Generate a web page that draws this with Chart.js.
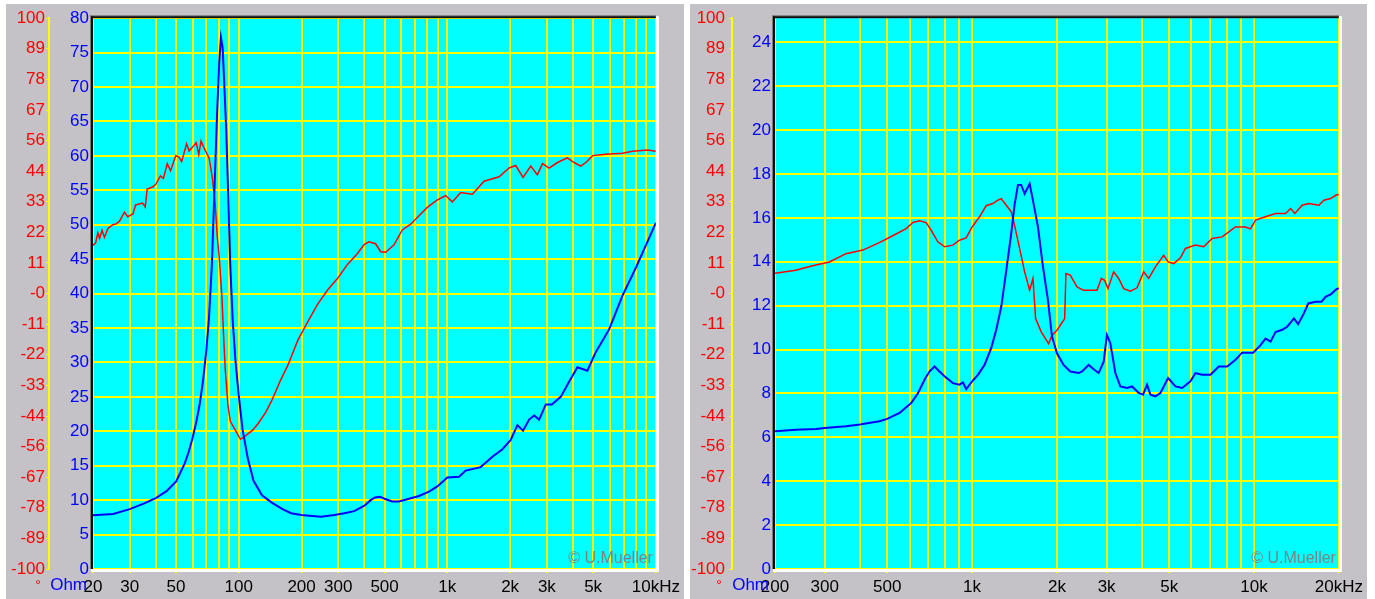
<!DOCTYPE html>
<html>
<head>
<meta charset="utf-8">
<script src="https://cdn.jsdelivr.net/npm/chart.js@4.4.0/dist/chart.umd.min.js"></script>
<style>
html, body { margin: 0; padding: 0; background: #fff; }
body { width: 1375px; height: 599px; position: relative; overflow: hidden; }
.panel { position: absolute; top: 4px; height: 595px; background: #c4c2c6; }
#p1 { left: 6px; width: 678px; }
#p2 { left: 690px; width: 677px; }
canvas { display: block; }
</style>
</head>
<body>
<div class="panel" id="p1"><canvas id="c1" width="678" height="595"></canvas></div>
<div class="panel" id="p2"><canvas id="c2" width="677" height="595"></canvas></div>
<script>
// phase axis labels (shared by both panels)
var degLabels = ['100','89','78','67','56','44','33','22','11','-0','-11','-22','-33','-44','-56','-67','-78','-89','-100'];

// ---- left panel: 20 Hz .. 10 kHz
var leftGridFreqs = [20,30,40,50,60,70,80,90,100,200,300,400,500,600,700,800,900,
                     1000,2000,3000,4000,5000,6000,7000,8000,9000,10000];
var leftLabelFreqs = [20,30,50,100,200,300,500,1000,2000,3000,5000,10000];
var leftLabelTexts = ['20','30','50','100','200','300','500','1k','2k','3k','5k','10kHz'];
var leftOhmTicks = [0,5,10,15,20,25,30,35,40,45,50,55,60,65,70,75,80];

var leftOhmFreq = [20,25,30,35,40,45,50,55,57.5,60,62.5,65,67.5,70,72,74.3,76.6,78.6,80.6,82.1,83.7,85.2,87.1,88.7,91,
                   93.4,96.2,99.8,104.3,110.6,117.7,129.2,144.6,161.9,178.2,199.6,218.7,247.6,287.4,320.6,
                   357.6,400,429,450,475,500,544,586,655,731,817,895,1000,1138,1224,1445,1644,1837,2013,
                   2167,2307,2466,2607,2756,2964,3168,3497,3834,4204,4692,5146,5966,6914,8015,8947,10000];
var leftOhm = [7.8,8.0,8.7,9.5,10.3,11.3,12.7,15.3,17.0,19.0,21.3,24.0,27.5,32.0,36.5,44.2,55.8,65.7,73.6,77.2,75.7,70.4,63.6,55.8,44.2,
               36.4,30.6,25.4,20.2,16.0,12.8,10.7,9.6,8.7,8.1,7.85,7.75,7.6,7.85,8.1,
               8.4,9.2,10.0,10.4,10.5,10.2,9.8,9.8,10.2,10.6,11.25,12.0,13.3,13.4,14.3,14.8,16.3,17.4,18.75,
               20.9,20.1,21.7,22.3,21.7,23.9,23.9,25.0,27.2,29.3,28.8,31.5,34.8,39.7,43.75,47.0,50.3];

var leftDegFreq = [20,20.6,21.1,21.5,22.1,22.7,23.6,24.9,25.8,26.8,28.3,29.3,31.1,32.0,34.6,35.6,36.4,38.6,40,42.1,
                   43.5,45.4,47.1,49.9,51.7,53.2,56.2,57.8,59.9,62.5,64.3,65.9,69.2,72.1,74.7,77.0,78.8,80.6,83.0,84.6,
                   86.1,88.7,91.0,96.2,101.8,107.9,116.6,124.4,134.6,144.6,158.9,172,192,214,239,267,298,332,370,399,
                   421,453,479,506,555,608,667,731,802,895,982,1057,1159,1318,1500,1771,1977,2127,2307,2512,
                   2702,2859,3076,3372,3763,4051,4364,4616,4968,5753,6914,7726,9120,10000];
var leftDeg = [17.5,18.5,22.1,20,23,20.4,23.7,25,25.3,26.3,29.6,27.9,28.9,32.2,32.9,31.5,38,38.7,39.7,42.7,
               41.8,47.2,44.6,50.1,49.6,47.9,54.4,51.8,53.1,54.8,50.5,55.4,51.8,49.2,42,32.9,21,13.2,-1.2,-15.6,
               -27.4,-40.4,-46.3,-49.6,-52.9,-51.6,-49.6,-47.0,-43.1,-38.5,-31.3,-26.0,-16.9,-10.3,-3.8,1.4,5.6,10.6,14.5,17.8,
               18.8,18.1,15.2,15.0,17.7,23.1,25.2,28.3,31.3,34.0,35.6,33.3,36.7,36.1,40.8,42.4,45.6,46.5,42.2,46.3,
               43.1,47.2,45.6,47.6,49.3,47.6,46.3,47.6,50.1,50.6,51.0,51.7,52.1,51.7];

// ---- right panel: 200 Hz .. 20 kHz
var rightGridFreqs = [200,300,400,500,600,700,800,900,1000,2000,3000,4000,5000,6000,7000,8000,9000,10000,20000];
var rightLabelFreqs = [200,300,500,1000,2000,3000,5000,10000,20000];
var rightLabelTexts = ['200','300','500','1k','2k','3k','5k','10k','20kHz'];
var rightOhmTicks = [0,2,4,6,8,10,12,14,16,18,20,22,24];

var rightOhmFreq = [200,237,280,300,357,400,469,500,553,608,642,678,706,736,766,800,855,902,928,953,
                    1000,1049,1107,1169,1218,1269,1322,1377,1415,1454,1494,1536,1600,1644,1712,1783,1858,1920,2000,2111,
                    2230,2389,2454,2591,2699,2812,2929,3008,3093,3222,3357,3545,3692,3900,4040,4174,4291,4468,4654,4958,
                    5264,5558,5950,6196,6545,7006,7500,8030,8594,9074,9930,10544,10980,11440,11920,12580,13110,13850,14340,15020,
                    15570,16530,17360,17930,18690,19560,20000];
var rightOhm = [6.28,6.35,6.38,6.43,6.5,6.58,6.73,6.84,7.11,7.56,8.0,8.62,9.0,9.23,9.0,8.77,8.47,8.4,8.5,8.2,
                8.55,8.85,9.3,10.06,10.9,11.95,13.6,15.3,16.6,17.5,17.5,17.1,17.55,16.8,15.6,13.8,12.25,10.6,9.83,9.3,
                9.0,8.93,9.0,9.3,9.1,8.93,9.45,10.67,10.29,8.93,8.32,8.25,8.32,8.02,7.94,8.4,7.94,7.87,8.02,8.7,
                8.32,8.25,8.55,8.93,8.85,8.85,9.23,9.23,9.53,9.86,9.86,10.2,10.5,10.36,10.8,10.9,11.04,11.42,11.16,11.65,
                12.1,12.18,12.18,12.4,12.51,12.74,12.8];

var rightDegFreq = [200,237,272,312,357,410,469,523,584,617,651,687,716,756,800,855,902,953,1000,1063,
                    1122,1185,1234,1269,1322,1377,1415,1474,1536,1600,1644,1680,1759,1868,1920,2000,2130,2152,2230,2356,
                    2486,2662,2774,2874,2952,3034,3178,3311,3450,3644,3846,4061,4232,4468,4782,4958,5192,5482,5710,6196,
                    6634,7100,7706,8140,8594,9326,9716,10120,10980,11920,12940,13480,13960,14820,15650,16990,17700,18690,19560,20000];
var rightDeg = [7.4,8.5,10.1,11.5,14.5,15.8,18.5,21,23.6,25.8,26.4,25.8,23,18.8,17,17.6,19.4,20.2,24.2,27.9,
                31.9,32.7,33.9,34.5,32.1,29.7,24.8,16.4,7.9,1.2,5.5,-9.1,-13.9,-18.2,-15.2,-13.3,-9.1,7.3,6.7,2.4,
                1.2,1.2,1.2,5.5,4.8,1.8,7.9,5.5,1.8,0.85,2.1,7.9,5.5,9.7,13.9,11.5,10.9,13,16.4,17.6,
                17,20,20.6,22.4,24.2,24.2,23.5,26.7,27.9,29.1,29.1,30.9,29.1,32.1,32.7,32.1,33.9,34.5,35.8,36];

function pts(xs, ys) {
    return xs.map(function (x, i) { return { x: x, y: ys[i] }; });
}

var labelFont = { family: "'Liberation Sans', Arial, sans-serif", size: 17 };

var framePlugin = {
    id: 'frame',
    beforeDraw: function (chart) {
        var a = chart.chartArea, ctx = chart.ctx;
        ctx.save();
        ctx.fillStyle = '#00ffff';
        ctx.fillRect(a.left, a.top, a.right - a.left, a.bottom - a.top);
        ctx.restore();
    },
    afterDraw: function (chart, args, opts) {
        var a = chart.chartArea, ctx = chart.ctx;
        var xs = chart.scales.x, ds = chart.scales.deg;
        ctx.save();
        // sunken border
        ctx.fillStyle = '#7a7a7a';
        ctx.fillRect(a.left - 3, a.top - 3, a.right - a.left + 3, 1);
        ctx.fillRect(a.left - 3, a.top - 3, 1, a.bottom - a.top + 3);
        ctx.fillStyle = '#101010';
        ctx.fillRect(a.left - 2, a.top - 2, a.right - a.left + 2, 2);
        ctx.fillRect(a.left - 2, a.top - 2, 2, a.bottom - a.top + 2);
        ctx.fillStyle = '#ffffff';
        ctx.fillRect(a.left - 2, a.bottom, a.right - a.left + 5, 3);
        ctx.fillRect(a.right, a.top - 2, 3, a.bottom - a.top + 2);
        // texts
        ctx.font = labelFont.size + 'px ' + labelFont.family;
        ctx.textBaseline = 'top';
        ctx.textAlign = 'right';
        ctx.fillStyle = '#0000ff';
        ctx.fillText('Ohm', a.left - 6, xs.top + 8);
        ctx.textAlign = 'center';
        ctx.fillStyle = '#ff0000';
        ctx.font = '14px ' + labelFont.family;
        ctx.fillText('\u00b0', ds.right - opts.degOff, xs.top + 10);
        ctx.font = '16px ' + labelFont.family;
        ctx.textAlign = 'right';
        ctx.textBaseline = 'alphabetic';
        ctx.fillStyle = '#808080';
        ctx.fillText('\u00a9 U.Mueller', a.right - 3, a.bottom - 6);
        ctx.restore();
    }
};

function makeChart(id, c) {
    return new Chart(document.getElementById(id), {
        type: 'line',
        data: {
            datasets: [
                { data: pts(c.ohmFreq, c.ohm), yAxisID: 'ohm', borderColor: '#0000ff', borderWidth: 2 },
                { data: pts(c.degFreq, c.deg), yAxisID: 'deg', borderColor: '#ff0000', borderWidth: 1.5 }
            ]
        },
        options: {
            responsive: false,
            animation: false,
            events: [],
            layout: { padding: { left: 0, right: c.padRight, top: 12, bottom: 0 } },
            elements: { point: { radius: 0 }, line: { tension: 0 } },
            plugins: { legend: { display: false }, tooltip: { enabled: false },
                       frame: { degOff: c.degOff } },
            scales: {
                x: {
                    type: 'logarithmic', min: c.fmin, max: c.fmax,
                    afterBuildTicks: function (a) { a.ticks = c.grid.map(function (v) { return { value: v }; }); },
                    afterFit: function (a) { a.height = 30; },
                    ticks: {
                        autoSkip: false, maxRotation: 0, color: '#000000', font: labelFont, padding: 4,
                        callback: function (v) { var i = c.labelFreqs.indexOf(v); return i < 0 ? '' : c.labelTexts[i]; }
                    },
                    grid: {
                        color: '#ffff00', lineWidth: 2, tickLength: 4,
                        tickColor: function (ctx) {
                            return ctx.tick && c.labelFreqs.indexOf(ctx.tick.value) >= 0 ? '#ffff00' : 'rgba(0,0,0,0)';
                        }
                    },
                    border: { display: false }
                },
                ohm: {
                    position: 'left', weight: 0, min: 0, max: c.ohmMax,
                    afterBuildTicks: function (a) { a.ticks = c.ohmTicks.map(function (v) { return { value: v }; }); },
                    afterFit: function (a) { a.width = c.ohmW; },
                    ticks: { autoSkip: false, color: '#0000ff', font: labelFont, padding: 4 },
                    grid: { color: '#ffff00', lineWidth: 2, drawTicks: false },
                    border: { display: false }
                },
                deg: {
                    position: 'left', weight: 1, min: -100, max: 100,
                    afterBuildTicks: function (a) {
                        a.ticks = degLabels.map(function (t, i) { return { value: 100 - i * 200 / 18 }; });
                    },
                    afterFit: function (a) { a.width = c.degW; },
                    ticks: {
                        autoSkip: false, color: '#ff0000', font: labelFont, padding: c.degPad,
                        callback: function (v, i) { return degLabels[i]; }
                    },
                    grid: { drawOnChartArea: false, color: '#ffff00', lineWidth: 1, tickLength: 3 },
                    border: { display: true, color: '#ffff00', width: 2 }
                }
            }
        },
        plugins: [framePlugin]
    });
}

makeChart('c1', {
    fmin: 20, fmax: 10000, grid: leftGridFreqs, labelFreqs: leftLabelFreqs, labelTexts: leftLabelTexts,
    ohmMax: 80, ohmTicks: leftOhmTicks, ohmFreq: leftOhmFreq, ohm: leftOhm, degFreq: leftDegFreq, deg: leftDeg,
    degW: 43, ohmW: 44, padRight: 27, degPad: 1, degOff: 11
});
makeChart('c2', {
    fmin: 200, fmax: 20000, grid: rightGridFreqs, labelFreqs: rightLabelFreqs, labelTexts: rightLabelTexts,
    ohmMax: 25.1, ohmTicks: rightOhmTicks, ohmFreq: rightOhmFreq, ohm: rightOhm, degFreq: rightDegFreq, deg: rightDeg,
    degW: 42, ohmW: 43, padRight: 27, degPad: 4, degOff: 13
});
</script>
</body>
</html>
